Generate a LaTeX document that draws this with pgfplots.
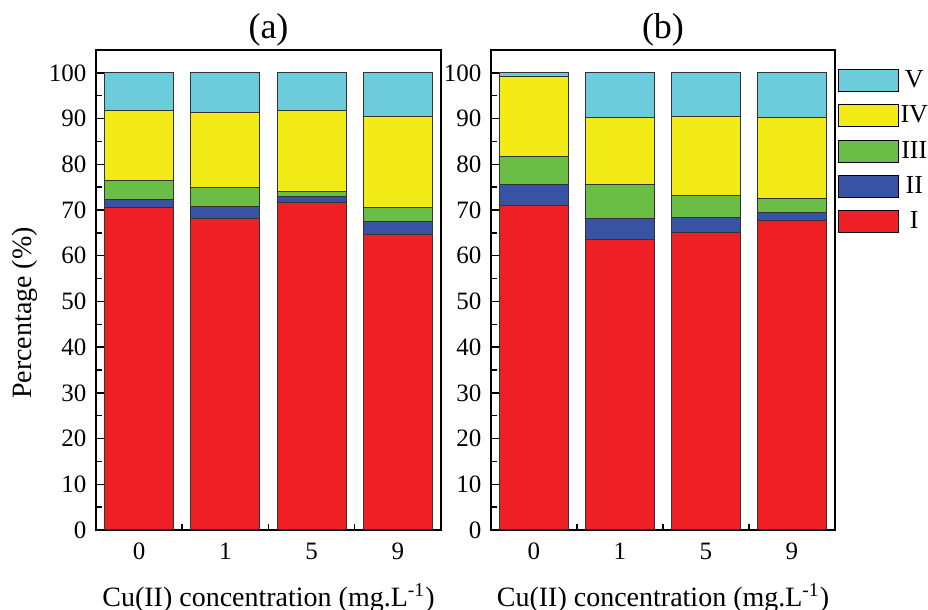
\documentclass[border=0pt]{standalone}
\usepackage{fontspec}
\setmainfont{Liberation Serif}
\usepackage{pgfplots}
\pgfplotsset{compat=1.18}
\definecolor{cI}{RGB}{238,31,37}
\definecolor{cII}{RGB}{57,83,164}
\definecolor{cIII}{RGB}{106,189,69}
\definecolor{cIV}{RGB}{242,235,22}
\definecolor{cV}{RGB}{108,204,220}
\pgfplotsset{
  panel/.style={
    scale only axis, width=172.5pt, height=240pt,
    ybar stacked, bar width=0.8,
    xmin=-0.5, xmax=3.5, ymin=0, ymax=105,
    xtick={0,1,2,3}, xticklabels={0,1,5,9},
    minor xtick={0.5,1.5,2.5},
    ytick={0,10,...,100}, minor ytick={5,15,...,95},
    tick align=inside, xtick pos=bottom, ytick pos=left,
    major tick length=5pt, minor tick length=3pt,
    axis line style={line width=0.75pt},
    tick style={black, line width=0.75pt},
    /pgf/number format/assume math mode=true,
    tick label style={font=\fontsize{12.5}{14}\selectfont},
    xticklabel style={yshift=-2.8pt},
    yticklabel style={xshift=-1.3pt},
    label style={font=\fontsize{14}{16}\selectfont},
    xlabel={Cu(II) concentration (mg.L\textsuperscript{-1})},
    xlabel style={at={(axis description cs:0.5,-0.1417)}, anchor=center},
    title style={font=\fontsize{18}{20}\selectfont, at={(0.5,1)}, anchor=south, yshift=-7.5pt},
    every axis plot/.append style={draw=black!80, line width=0.5pt},
  }
}
\begin{document}
\begin{tikzpicture}
\path[use as bounding box] (0,0) rectangle (464pt,305pt);
\begin{axis}[panel, at={(48pt,40pt)}, anchor=south west, title={(a)},
  ylabel={Percentage (\%)},
  ylabel style={at={(axis description cs:-0.2058,0.452)}, anchor=center}]
\addplot[fill=cI] coordinates {(0,70.6) (1,68.2) (2,71.6) (3,64.7)};
\addplot[fill=cII] coordinates {(0,1.8) (1,2.6) (2,1.3) (3,2.8)};
\addplot[fill=cIII] coordinates {(0,4.1) (1,4.1) (2,1.1) (3,3.1)};
\addplot[fill=cIV] coordinates {(0,15.3) (1,16.4) (2,17.7) (3,19.8)};
\addplot[fill=cV] coordinates {(0,8.2) (1,8.7) (2,8.3) (3,9.6)};
\end{axis}
\begin{axis}[panel, width=172pt, at={(245.5pt,40pt)}, anchor=south west, title={(b)},
  legend style={at={(rel axis cs:1.0087,0.9604)}, anchor=north west, draw=none, fill=none,
    inner sep=0pt, outer sep=0pt, row sep=6.15pt, column sep=0.8pt,
    cells={anchor=center}, nodes={inner sep=0pt, font=\fontsize{13}{15}\selectfont}},
  legend image code/.code={\draw[#1, draw=black, line width=0.5pt] (0pt,-5.5pt) rectangle (30pt,5.5pt);},
  reverse legend]
\addplot[fill=cI] coordinates {(0,71.0) (1,63.5) (2,65.1) (3,67.8)};
\addplot[fill=cII] coordinates {(0,4.6) (1,4.7) (2,3.3) (3,1.6)};
\addplot[fill=cIII] coordinates {(0,6.0) (1,7.4) (2,4.8) (3,3.2)};
\addplot[fill=cIV] coordinates {(0,17.5) (1,14.7) (2,17.2) (3,17.7)};
\addplot[fill=cV] coordinates {(0,0.9) (1,9.7) (2,9.6) (3,9.7)};
\legend{I,II,III,IV,V}
\end{axis}
\end{tikzpicture}
\end{document}
